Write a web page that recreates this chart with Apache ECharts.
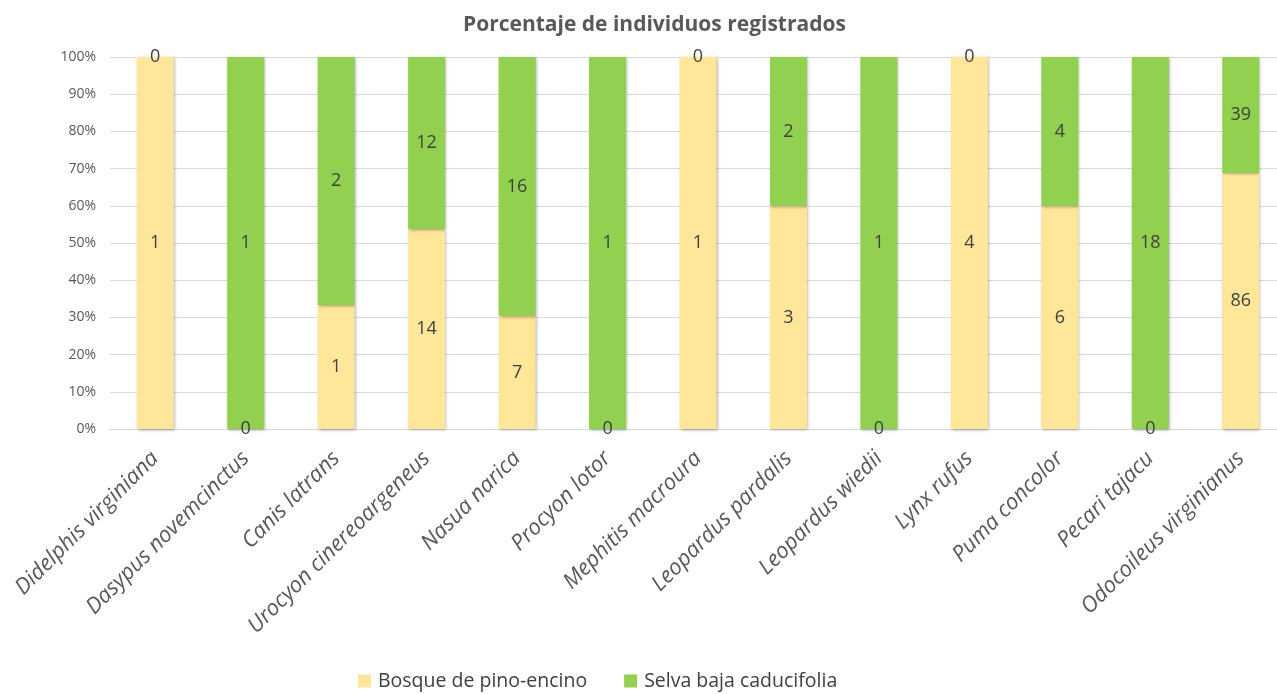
<!DOCTYPE html>
<html>
<head>
<meta charset="utf-8">
<script src="https://cdn.jsdelivr.net/npm/echarts@6/dist/echarts.min.js"></script>
<style>
  html, body { margin: 0; padding: 0; background: #fff; overflow: hidden; }
  #chart { width: 1290px; height: 694px; }
</style>
</head>
<body>
<div id="chart"></div>
<script>
// Species recorded and number of individuals per habitat
const species = [
  'Didelphis virginiana', 'Dasypus novemcinctus', 'Canis latrans',
  'Urocyon cinereoargeneus', 'Nasua narica', 'Procyon lotor',
  'Mephitis macroura', 'Leopardus pardalis', 'Leopardus wiedii',
  'Lynx rufus', 'Puma concolor', 'Pecari tajacu', 'Odocoileus virginianus'
];
const bosque = [1, 0, 1, 14, 7, 0, 1, 3, 0, 4, 6, 0, 86];
const selva  = [0, 1, 2, 12, 16, 1, 0, 2, 1, 0, 4, 18, 39];
const seriesNames = ['Bosque de pino-encino', 'Selva baja caducifolia'];
const yTicks = [0, 10, 20, 30, 40, 50, 60, 70, 80, 90, 100];

// Share of each habitat within a species (100% stacked)
const totals = species.map((_, i) => bosque[i] + selva[i]);
const pct = arr => arr.map((v, i) => ({ value: v / totals[i] * 100, count: v }));

const textColor = '#404040';
const barShadow = { shadowBlur: 3, shadowColor: 'rgba(0,0,0,0.35)', shadowOffsetX: 1, shadowOffsetY: 1 };

function barSeries(name, counts, color) {
  return {
    name: name,
    type: 'bar',
    stack: 'total',
    barWidth: 37,
    data: pct(counts),
    itemStyle: Object.assign({ color: color }, barShadow),
    label: {
      show: true,
      position: 'inside',
      formatter: p => String(p.data.count),
      color: textColor,
      fontFamily: 'Open Sans',
      fontSize: 18
    },
    emphasis: { disabled: true }
  };
}

const chart = echarts.init(document.getElementById('chart'), null, { renderer: 'canvas' });
chart.setOption({
  animation: false,
  title: {
    text: 'Porcentaje de individuos registrados',
    left: 458,
    top: 10,
    textStyle: { fontFamily: 'Open Sans', fontWeight: 'bold', fontSize: 21, color: '#595959' }
  },
  legend: {
    top: 666,
    left: 353,
    itemWidth: 13,
    itemHeight: 13,
    itemGap: 37,
    icon: 'rect',
    textStyle: { fontFamily: 'Open Sans', fontSize: 19.5, color: textColor, padding: [0, 0, 0, 2] },
    data: seriesNames
  },
  grid: { left: 110, top: 57, width: 1176, bottom: 265, containLabel: false },
  xAxis: {
    type: 'category',
    data: species,
    axisTick: { show: false },
    axisLine: { show: true, lineStyle: { color: '#d9d9d9', width: 1 } },
    axisLabel: {
      interval: 0,
      rotate: 45,
      margin: 26,
      fontFamily: 'Open Sans',
      fontStyle: 'italic',
      fontSize: 22,
      color: '#595959'
    }
  },
  yAxis: {
    type: 'value',
    min: yTicks[0],
    max: yTicks[yTicks.length - 1],
    interval: 10,
    axisLine: { show: false },
    axisTick: { show: false },
    splitLine: { lineStyle: { color: '#d9d9d9', width: 1 } },
    axisLabel: {
      formatter: v => v + '%',
      margin: 14,
      fontFamily: 'Open Sans',
      fontSize: 14,
      color: '#595959'
    }
  },
  series: [
    barSeries(seriesNames[0], bosque, '#FFE699'),
    barSeries(seriesNames[1], selva, '#92D050')
  ]
});
</script>
</body>
</html>
